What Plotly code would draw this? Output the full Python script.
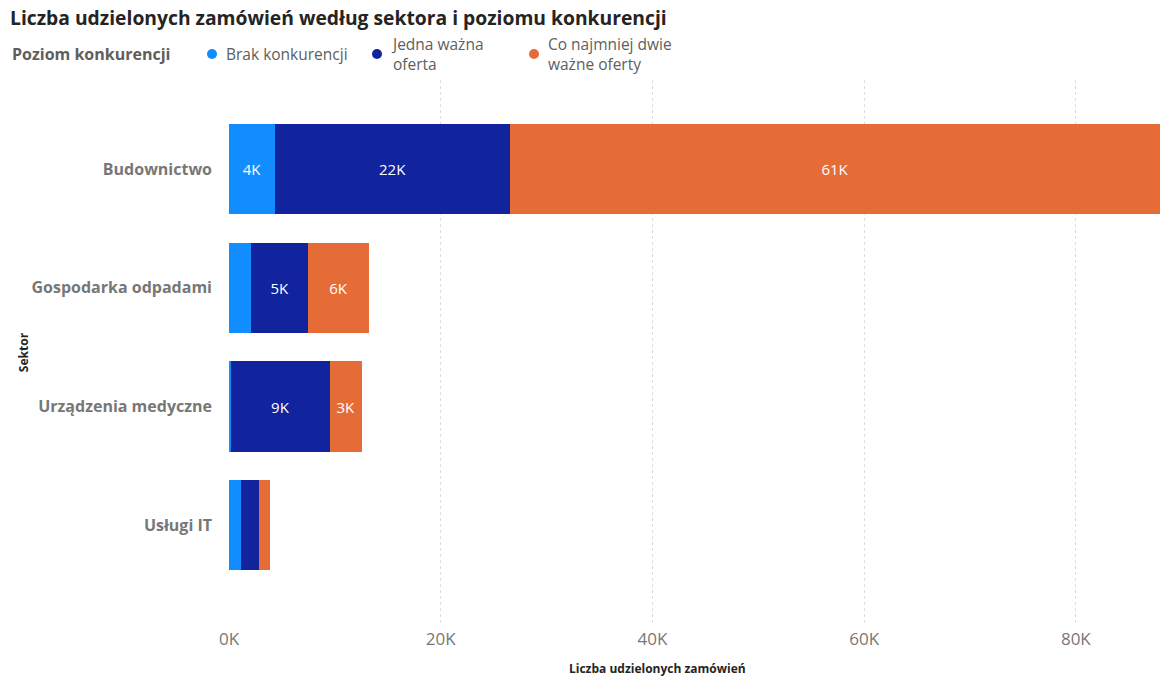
import plotly.graph_objects as go

sectors = ["Budownictwo", "Gospodarka odpadami", "Urządzenia medyczne", "Usługi IT"]
series_names = ["Brak konkurencji", "Jedna ważna<br>oferta", "Co najmniej dwie<br>ważne oferty"]
brak = [4350, 2100, 200, 1100]
jedna = [22200, 5400, 9300, 1700]
dwie = [61400, 5700, 3050, 1050]
colors = ["#118DFF", "#12239E", "#E66C37"]
xtick_vals = [0, 20000, 40000, 60000, 80000]
xtick_text = ["0K", "20K", "40K", "60K", "80K"]
legend_title = "Poziom konkurencji"

FONT = "Open Sans"
W, H = 1161, 680
L, R, T, B = 229, 1, 80, 55
LEG_MARKER_X = [212, 377, 534]   # legend layout (pixels)
LEG_Y = 54


def labels(vals):
    return [f"{round(v/1000)}K" if v >= 2500 else "" for v in vals]


fig = go.Figure()
for name, vals, col in zip(series_names, [brak, jedna, dwie], colors):
    fig.add_trace(go.Bar(
        y=sectors, x=vals, orientation="h", name=name.replace("<br>", " "),
        marker=dict(color=col, line=dict(width=0)),
        text=labels(vals), textposition="inside", insidetextanchor="middle",
        textfont=dict(color="white", size=15, family=FONT),
        showlegend=False, hoverinfo="x+y",
    ))

totals = [a + b + c for a, b, c in zip(brak, jedna, dwie)]

# legend built from annotations + circle shapes (container pixel positions)
annotations = [dict(text=f"<b>{legend_title}</b>", xref="paper", yref="paper",
                    x=(10 - L) / (W - L - R), y=1 + (T - LEG_Y) / (H - T - B),
                    xanchor="left", yanchor="middle", showarrow=False,
                    font=dict(size=16, color="#605E5C", family=FONT))]
shapes = []
for name, col, mx in zip(series_names, colors, LEG_MARKER_X):
    xp = (mx - L) / (W - L - R)
    yp = 1 + (T - LEG_Y) / (H - T - B)
    shapes.append(dict(type="circle", xref="paper", yref="paper", xsizemode="pixel", ysizemode="pixel",
                       xanchor=xp, yanchor=yp, x0=-5, x1=5, y0=-5, y1=5,
                       fillcolor=col, line=dict(width=0)))
    annotations.append(dict(text=name, xref="paper", yref="paper",
                            x=(mx + 12 - L) / (W - L - R), y=yp,
                            xanchor="left", yanchor="middle", align="left", showarrow=False,
                            font=dict(size=15.5, color="#605E5C", family=FONT)))

annotations.append(dict(text="<b>Liczba udzielonych zamówień</b>",
                        xref="paper", yref="paper",
                        x=(657 - L) / (W - L - R), y=-(668 - (H - B)) / (H - T - B),
                        xanchor="center", yanchor="middle", showarrow=False,
                        font=dict(size=12, color="#252423", family=FONT)))

fig.update_layout(
    width=W, height=H,
    barmode="stack", bargap=0.24,
    paper_bgcolor="white", plot_bgcolor="white",
    margin=dict(l=L, r=R, t=T, b=B),
    font=dict(family=FONT, color="#666666"),
    showlegend=False,
    title=dict(text="<b>Liczba udzielonych zamówień według sektora i poziomu konkurencji</b>",
               x=10 / W, xanchor="left", xref="container",
               y=1 - 18 / H, yanchor="middle", yref="container",
               font=dict(size=19.3, color="#252423", family=FONT)),
    xaxis=dict(range=[0, max(totals)], tickvals=xtick_vals, ticktext=xtick_text,
               showgrid=True, gridcolor="#DDDDDD", griddash="dot", gridwidth=1,
               zeroline=False, showline=False,
               tickfont=dict(size=17, color="#777777", family=FONT), ticklabelstandoff=2),
    yaxis=dict(categoryorder="array", categoryarray=sectors, range=[3.84, -0.75],
               showgrid=False, zeroline=False, showline=False,
               tickfont=dict(size=16, color="#777777", family=FONT, weight="bold"),
               ticklabelstandoff=16,
               title=dict(text="<b>Sektor</b>", font=dict(size=12, color="#252423"), standoff=0)),
    annotations=annotations,
    shapes=shapes,
)

fig.write_html("out.html")
